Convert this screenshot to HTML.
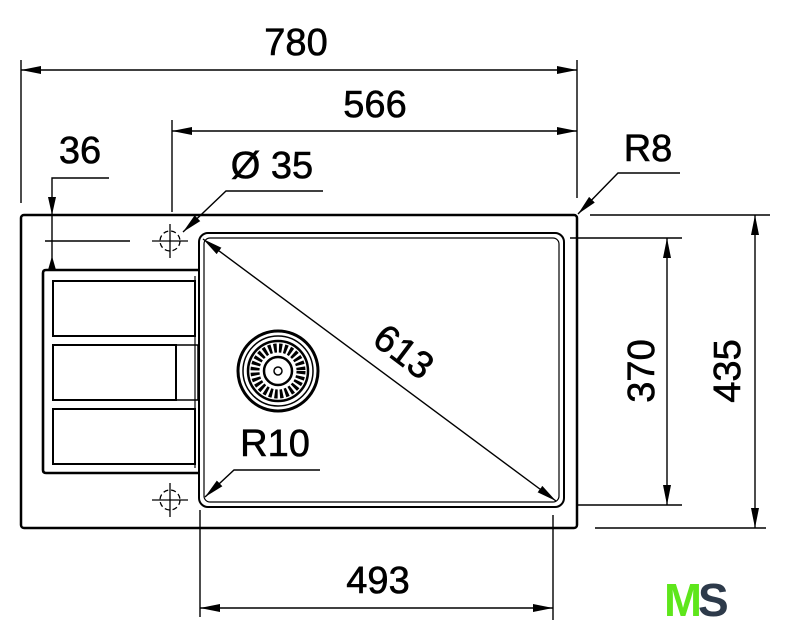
<!DOCTYPE html>
<html><head><meta charset="utf-8"><style>
html,body{margin:0;padding:0;background:#fff;}
svg{display:block;}
text{font-family:"Liberation Sans",sans-serif;fill:#000;stroke:#000;stroke-width:0.6;}
</style></head><body>
<svg width="789" height="640" viewBox="0 0 789 640" xmlns="http://www.w3.org/2000/svg">
<defs>
<marker id="a" viewBox="0 0 20 10" refX="20" refY="5" markerWidth="20" markerHeight="10" markerUnits="userSpaceOnUse" orient="auto-start-reverse"><path d="M0,1 L20,5 L0,9 Z" fill="#000"/></marker>
</defs>
<g stroke="#000" fill="none" stroke-width="1.4">
<line x1="21" y1="60" x2="21" y2="203"/>
<line x1="577" y1="60" x2="577" y2="198"/>
<line x1="172" y1="120" x2="172" y2="212"/>
<line x1="590" y1="215" x2="770" y2="215"/>
<line x1="570" y1="238" x2="682" y2="238"/>
<line x1="578" y1="505" x2="682" y2="505"/>
<line x1="595" y1="528" x2="766" y2="528"/>
<line x1="200" y1="510" x2="200" y2="617"/>
<line x1="553" y1="515" x2="553" y2="620"/>
<line x1="21" y1="70" x2="577" y2="70" marker-start="url(#a)" marker-end="url(#a)"/>
<line x1="172" y1="131" x2="577" y2="131" marker-start="url(#a)" marker-end="url(#a)"/>
<line x1="667" y1="238" x2="667" y2="505" marker-start="url(#a)" marker-end="url(#a)"/>
<line x1="755" y1="215" x2="755" y2="528" marker-start="url(#a)" marker-end="url(#a)"/>
<line x1="200" y1="608" x2="553" y2="608" marker-start="url(#a)" marker-end="url(#a)"/>
<line x1="203" y1="239" x2="556" y2="501" marker-start="url(#a)" marker-end="url(#a)"/>
<polyline points="109,178 52,178 52,270"/>
<line x1="45" y1="241" x2="130" y2="241"/>
<polyline points="323,191 226,191 183,232" marker-end="url(#a)"/>
<polyline points="680,173 618,173 578,214" marker-end="url(#a)"/>
<polyline points="320,470 234,470 205,497" marker-end="url(#a)"/>
</g>
<path d="M48,197 L56,197 L52,215 Z M48,270 L56,270 L52,256 Z" fill="#000"/>
<g stroke="#000" fill="none">
<rect x="21" y="215" width="556" height="313" rx="3" stroke-width="2.5"/>
<rect x="199" y="233" width="365" height="274" rx="9" stroke-width="2"/>
<rect x="204" y="238" width="355" height="264" rx="6" stroke-width="1.2"/>
<path d="M200,270 L46,270 Q43,270 43,273 L43,470 Q43,473 46,473 L200,473" stroke-width="2.6"/>
<rect x="53" y="281" width="142" height="55" stroke-width="2"/>
<rect x="53" y="345" width="123" height="55" stroke-width="2"/>
<rect x="176" y="345" width="22" height="55" stroke-width="1.5"/>
<rect x="53" y="409" width="142" height="55" stroke-width="2"/>
<line x1="195" y1="276" x2="195" y2="468" stroke-width="1.2"/>
<g stroke-width="1.3">
<circle cx="170" cy="241" r="10" stroke-dasharray="5 3"/>
<line x1="152" y1="241" x2="188" y2="241"/><line x1="170" y1="224" x2="170" y2="258"/>
<circle cx="170" cy="500" r="10" stroke-dasharray="5 3"/>
<line x1="152" y1="500" x2="188" y2="500"/><line x1="170" y1="483" x2="170" y2="517"/>
</g>
<circle cx="278" cy="371" r="40" stroke-width="3"/>
<circle cx="278" cy="371" r="35" stroke-width="1.5"/>
<circle cx="278" cy="371" r="30" stroke-width="2.5"/>
<circle cx="278" cy="371" r="23" stroke-width="9" stroke-dasharray="3 2.2"/>
<circle cx="278" cy="371" r="14" stroke-width="2.5"/>
<circle cx="278" cy="371" r="4" stroke-width="1.5"/>
</g>
<g font-size="38">
<text x="296" y="55" text-anchor="middle">780</text>
<text x="375" y="117" text-anchor="middle">566</text>
<text x="80" y="163" text-anchor="middle">36</text>
<text x="272" y="178" text-anchor="middle">Ø 35</text>
<text x="648" y="161" text-anchor="middle">R8</text>
<text x="275" y="456" text-anchor="middle">R10</text>
<text x="378" y="593" text-anchor="middle">493</text>
<text transform="translate(654,371) rotate(-90)" text-anchor="middle">370</text>
<text transform="translate(740,371) rotate(-90)" text-anchor="middle">435</text>
<text transform="translate(396,362) rotate(37)" text-anchor="middle">613</text>
</g>
<text x="664" y="616" font-size="46" font-weight="bold" style="fill:#5ee61b;stroke:none" textLength="38" lengthAdjust="spacingAndGlyphs">M</text>
<text x="698" y="616" font-size="46" font-weight="bold" style="fill:#2d3a4a;stroke:none">S</text>
</svg>
</body></html>
